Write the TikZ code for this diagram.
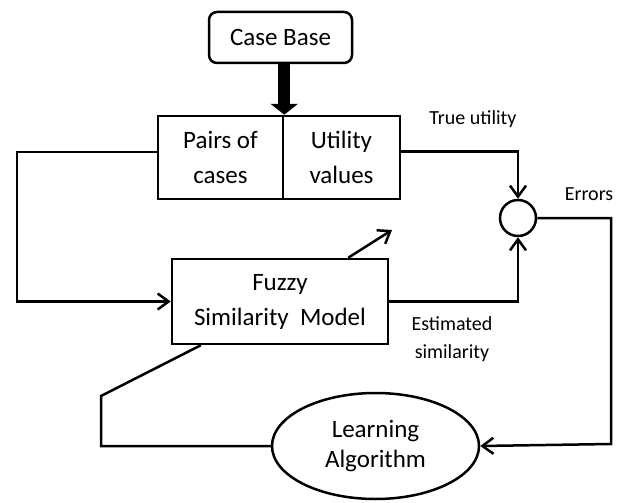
\documentclass[tikz,border=0pt]{standalone}
\usepackage{fontspec}
\setmainfont{Carlito}
\usepackage{tikz}
\usetikzlibrary{arrows.meta, shapes.geometric}

\begin{document}
\begin{tikzpicture}[x=1pt, y=-1pt]
          % Define styles
          \tikzstyle{block} = [draw, line width=2.5pt, align=center, inner sep=0pt, font=\fontsize{25}{35}\selectfont]
          \tikzstyle{link} = [line width=2.5pt]
          \tikzstyle{arr} = [link, -{Straight Barb[length=11pt, width=16pt, line width=2.5pt]}]
          \tikzstyle{lbl} = [align=center, font=\fontsize{20}{28}\selectfont]

          \useasboundingbox (0,0) rectangle (621,503);

          % Boxes
          \node[block, rounded corners=8, minimum width=143, minimum height=51] (casebase) at (280.5,37.5) {Case Base};
          \node[block, minimum width=125, minimum height=83] (pairs) at (220.5,157.5) {Pairs of\\cases};
          \node[block, minimum width=117, minimum height=83] (util) at (341.5,157.5) {Utility\\values};
          \node[block, minimum width=216, minimum height=85] (fuzzy) at (280,301.5) {Fuzzy\\Similarity~~Model};
          \node[block, circle, minimum size=36] (sum) at (518,218) {};
          \node[block, ellipse, minimum width=207, minimum height=106, font=\fontsize{25}{30}\selectfont] (learn) at (375.5,446) {Learning\\Algorithm};

          % Labels
          \node[lbl] (truelbl) at (473,119) {True utility};
          \node[lbl] (errlbl) at (589,194) {Errors};
          \node[lbl] (estlbl) at (452,339) {Estimated\\similarity};

          % Corners
          \coordinate (pc) at (17,152);
          \coordinate (ec) at (611,444);
          \coordinate (fc) at (101,396);
          \coordinate (tip) at (392,230);

          % Case base to pairs
          \draw[line width=12pt, -{Triangle[length=11pt, width=27pt]}] (casebase.south -| pairs.north east) -- (pairs.north east);

          % Pairs to model
          \draw[arr] (pairs.west |- pc) -- (pc) |- (fuzzy.west);

          % True utility
          \draw[arr] ([yshift=6pt]util.east) -| (sum.north);

          % Estimated similarity
          \draw[arr] (fuzzy.east) -| (sum.south);

          % Errors
          \draw[arr] (sum.east) -| (ec) -- (learn.east);

          % Learning back to model
          \draw[link] (learn.west) -| (fc) -- ([xshift=30pt]fuzzy.south west);
          \draw[arr] ([xshift=-41pt]fuzzy.north east) -- (tip);
\end{tikzpicture}
\end{document}
